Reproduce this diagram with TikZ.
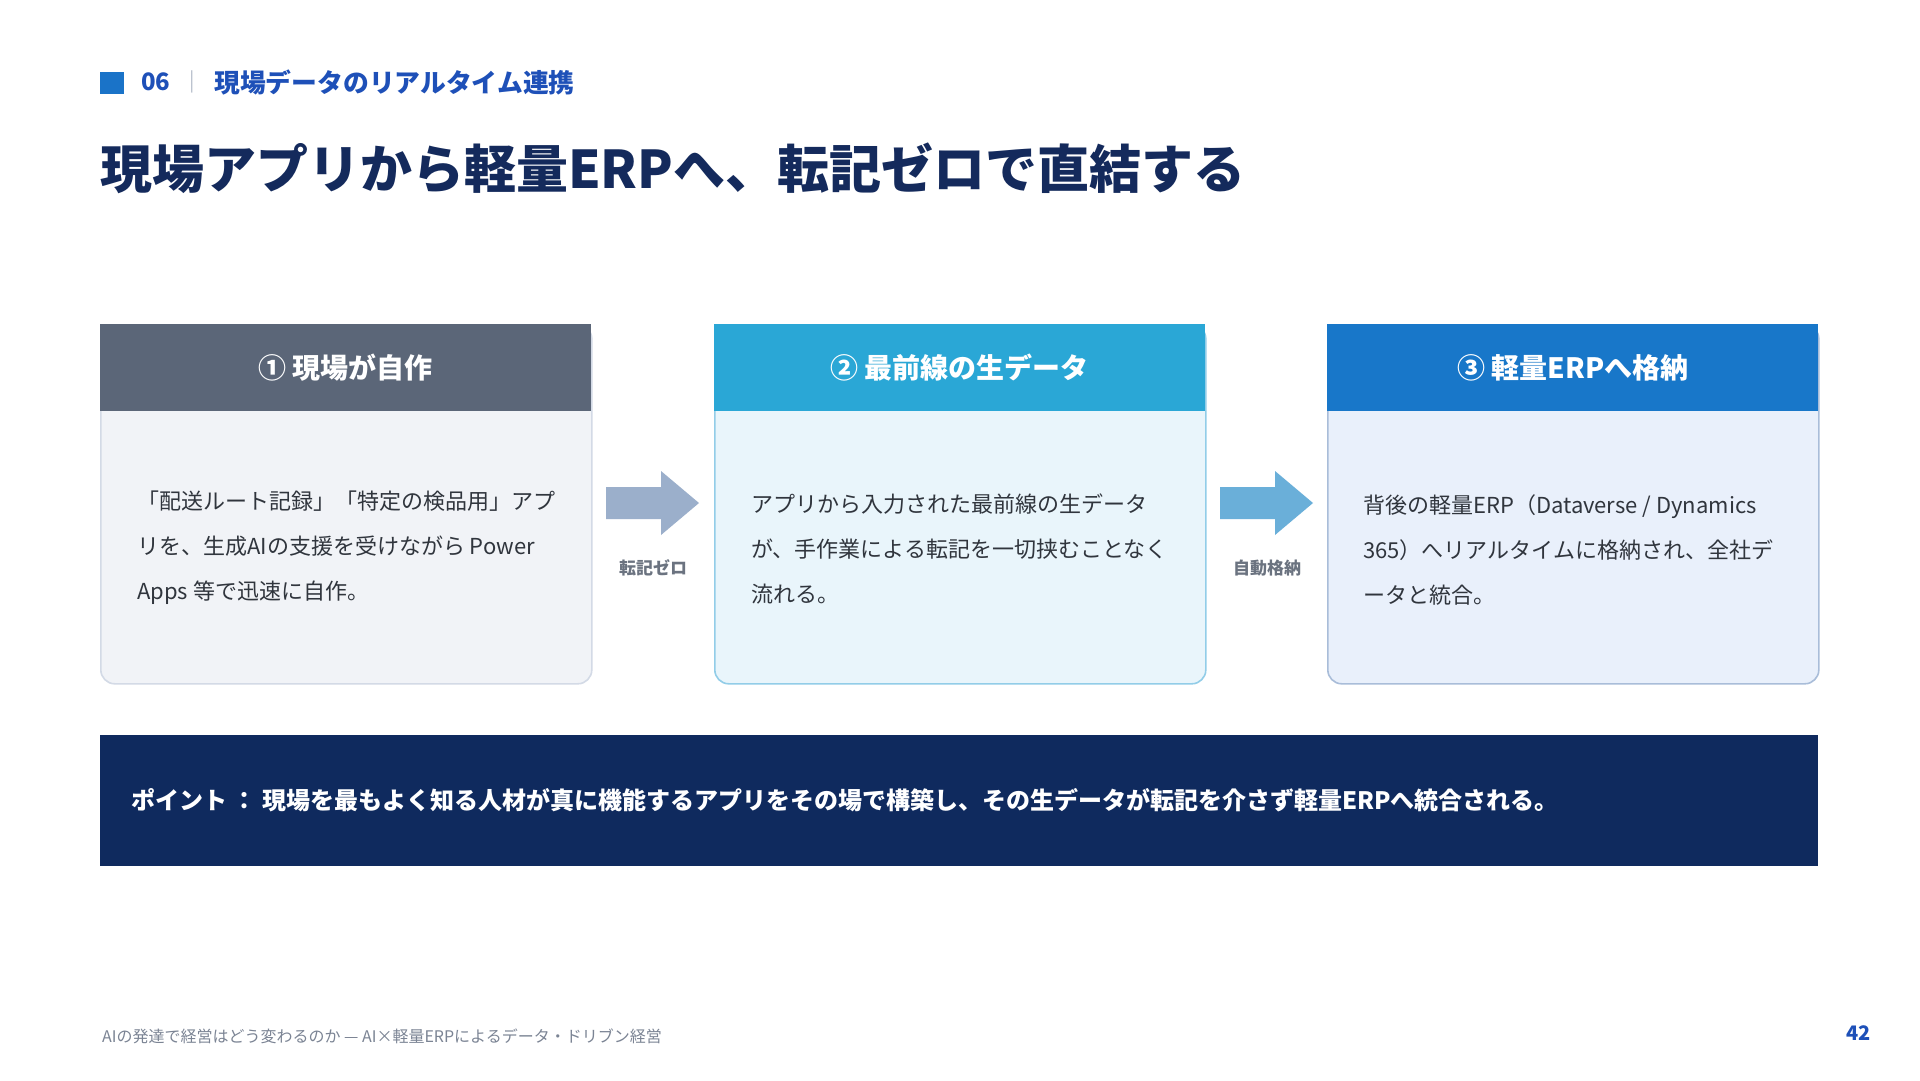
\documentclass[tikz,border=0pt]{standalone}
\usepackage{fontspec}
\setmainfont{Noto Sans CJK JP}
\definecolor{sqblue}{HTML}{1A73C8}
\definecolor{secblue}{HTML}{1E50B8}
\definecolor{sepgray}{HTML}{B8C0CC}
\definecolor{titlecol}{HTML}{142A5C}
\definecolor{hOne}{HTML}{5B6678}
\definecolor{fOne}{HTML}{F1F3F7}
\definecolor{dOne}{HTML}{D3DAE6}
\definecolor{hTwo}{HTML}{2AA7D6}
\definecolor{fTwo}{HTML}{E9F5FB}
\definecolor{dTwo}{HTML}{92CDE8}
\definecolor{hThree}{HTML}{1877C9}
\definecolor{fThree}{HTML}{E9F0FB}
\definecolor{dThree}{HTML}{A9BDD9}
\definecolor{arrA}{HTML}{9BAFCB}
\definecolor{arrB}{HTML}{6AAFD9}
\definecolor{labgray}{HTML}{6B7380}
\definecolor{bodycol}{HTML}{30353D}
\definecolor{banner}{HTML}{0F2A5E}
\definecolor{footgray}{HTML}{7B8494}
\begin{document}
\begin{tikzpicture}[x=1pt,y=-1pt,
  bodybox/.style={rectangle, rounded corners=14pt, line width=1.6pt, minimum width=491pt, minimum height=359pt, anchor=north west, inner sep=0pt},
  headbox/.style={rectangle, minimum width=491pt, minimum height=87pt, anchor=north west, inner sep=0pt, text=white, font=\fontsize{28}{30}\selectfont\bfseries},
  bodytext/.style={anchor=west, align=left, inner sep=0pt, text=bodycol, font=\fontsize{22}{45}\selectfont},
  arrlabel/.style={inner sep=0pt, text=labgray, font=\fontsize{17}{19}\selectfont\bfseries},
]
\useasboundingbox (0,0) rectangle (1920,1080);
\fill[white] (0,0) rectangle (1920,1080);

% section header
\fill[sqblue] (100,72) rectangle (124,94);
\node[anchor=west, inner sep=0pt, text=secblue, font=\fontsize{24}{26}\selectfont\bfseries] (num) at (141,82) {06};
\node[anchor=west, inner sep=0pt, text=sepgray, font=\fontsize{20}{22}\selectfont] (sep) at (189,82) {|};
\node[anchor=west, inner sep=0pt, text=secblue, font=\fontsize{25.8}{28}\selectfont\bfseries] (sub) at (214,82) {現場データのリアルタイム連携};

% title
\node[anchor=west, inner sep=0pt, text=titlecol, font=\fontsize{52}{56}\selectfont\bfseries] (title) at (100,168) {現場アプリから軽量ERPへ、転記ゼロで直結する};

% boxes
\node[bodybox, fill=fOne, draw=dOne] (b1) at (100,324) {};
\node[headbox, fill=hOne] (h1) at (100,324) {① 現場が自作};
\node[bodybox, fill=fTwo, draw=dTwo] (b2) at (714,324) {};
\node[headbox, fill=hTwo] (h2) at (714,324) {② 最前線の生データ};
\node[bodybox, fill=fThree, draw=dThree] (b3) at (1327,324) {};
\node[headbox, fill=hThree] (h3) at (1327,324) {③ 軽量ERPへ格納};

\node[bodytext] (t1) at (137,548) {「配送ルート記録」「特定の検品用」アプ\\リを、生成AIの支援を受けながら Power\\Apps 等で迅速に自作。};
\node[bodytext] (t2) at (751,549) {アプリから入力された最前線の生データ\\が、手作業による転記を一切挟むことなく\\流れる。};
\node[bodytext] (t3) at (1363,550) {背後の軽量ERP（Dataverse / Dynamics\\365）へリアルタイムに格納され、全社デ\\ータと統合。};

% block arrows
\fill[arrA] (606,487) -- (661,487) -- (661,471) -- (699,503) -- (661,535) -- (661,519) -- (606,519) -- cycle;
\node[arrlabel] (l1) at (653,568) {転記ゼロ};
\fill[arrB] (1220,487) -- (1275,487) -- (1275,471) -- (1313,503) -- (1275,535) -- (1275,519) -- (1220,519) -- cycle;
\node[arrlabel] (l2) at (1267,568) {自動格納};

% banner
\fill[banner] (100,735) rectangle (1818,866);
\node[anchor=west, inner sep=0pt, text=white, font=\fontsize{24}{26}\selectfont\bfseries] (point) at (131,800) {ポイント ： 現場を最もよく知る人材が真に機能するアプリをその場で構築し、その生データが転記を介さず軽量ERPへ統合される。};

% footer
\node[anchor=west, inner sep=0pt, text=footgray, font=\fontsize{16}{18}\selectfont] (foot) at (102,1036) {AIの発達で経営はどう変わるのか — AI×軽量ERPによるデータ・ドリブン経営};
\node[anchor=east, inner sep=0pt, text=secblue, font=\fontsize{20}{22}\selectfont\bfseries] (page) at (1871,1033) {42};
\end{tikzpicture}
\end{document}
